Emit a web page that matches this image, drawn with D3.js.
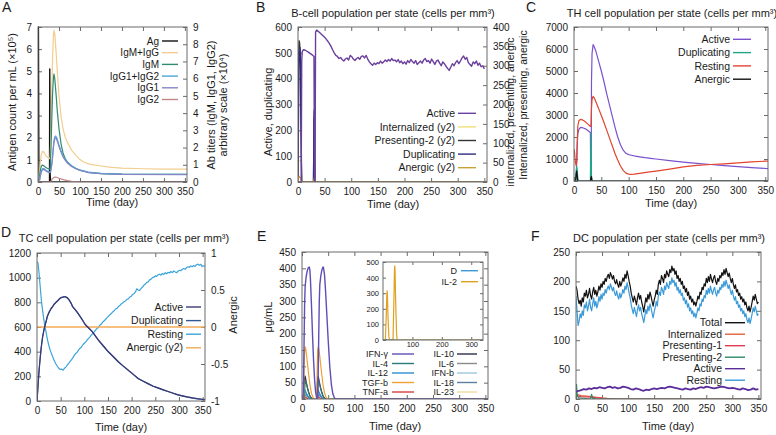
<!DOCTYPE html>
<html><head><meta charset="utf-8">
<script src="https://cdn.jsdelivr.net/npm/d3@7"></script>
<style>
body{margin:0;background:#fff;}
svg{display:block;}
</style></head><body>
<svg id="chart" width="776" height="435"></svg>
<script>
// ---------------- DATA ----------------
const dayTicks = [0,50,100,150,200,250,300,350];

// Panel A (Ag on left axis x10^5, antibodies on right axis x10^4)
const aNames = ["Ag","IgM+IgG","IgM","IgG1+IgG2","IgG1","IgG2"];
const aAg = [[0,7],[1,7],[2,1],[3,0],[27.5,0],[28,5.1],[29,0.3],[30,0],[355,0]];
const aIgMIgG = [[0,0],[2,0.1],[4,0.7],[6,1.3],[8,1.6],[10,1.75],[12,1.78],[14,1.72],[17,1.6],[20,1.5],[24,1.42],[27,1.36],[28,1.35],[29,1.5],[31,3.0],[33,5.5],[35,7.5],[37,8.6],[38,8.8],[40,8.6],[43,7.6],[46,6.4],[50,5.0],[55,3.8],[60,3.05],[65,2.6],[70,2.3],[80,1.85],[90,1.55],[100,1.3],[110,1.15],[125,1.02],[150,0.93],[175,0.85],[200,0.8],[250,0.77],[300,0.75],[355,0.75]];
const aIgM = [[0,0],[2,0.05],[4,0.4],[6,0.75],[8,0.92],[10,0.98],[12,0.97],[15,0.92],[18,0.86],[22,0.8],[26,0.76],[28,0.75],[29,0.85],[31,2.0],[33,3.8],[35,5.3],[37,6.1],[38,6.26],[40,6.0],[43,5.1],[46,4.1],[50,3.1],[55,2.2],[60,1.65],[65,1.35],[70,1.16],[80,0.93],[90,0.78],[100,0.68],[120,0.56],[150,0.49],[200,0.455],[355,0.44]];
const aIgG12 = [[0,0],[3,0],[5,0.3],[8,0.65],[11,0.78],[14,0.78],[18,0.7],[22,0.63],[26,0.6],[28,0.58],[30,0.62],[32,0.9],[34,1.3],[36,1.9],[38,2.4],[40,2.62],[42,2.67],[44,2.6],[47,2.4],[50,2.15],[55,1.8],[60,1.5],[65,1.3],[70,1.15],[80,0.95],[90,0.8],[100,0.7],[120,0.57],[150,0.5],[200,0.46],[355,0.45]];
const aIgG1 = [[0,0],[3,0],[5,0.28],[8,0.6],[11,0.72],[14,0.72],[18,0.65],[22,0.59],[26,0.56],[28,0.54],[30,0.58],[32,0.85],[34,1.22],[36,1.8],[38,2.28],[40,2.5],[42,2.56],[44,2.5],[47,2.3],[50,2.06],[55,1.72],[60,1.44],[65,1.25],[70,1.1],[80,0.9],[90,0.77],[100,0.67],[120,0.55],[150,0.48],[200,0.44],[355,0.43]];
const aIgG2 = [[0,0],[28,0],[31,0.05],[34,0.18],[38,0.27],[42,0.29],[46,0.26],[50,0.22],[60,0.14],[70,0.08],[80,0.04],[100,0.01],[120,0],[355,0]];

// Panel B
const bNames = ["Active","Internalized (y2)","Presenting-2 (y2)","Duplicating","Anergic (y2)"];
const bActiveEarly = [[0,0],[6,0],[7,470],[8,505],[10,512],[13,511],[16,507],[20,502],[24,496],[28,490],[30,486],[31,0],[32,0],[33,580]];
const bActiveDays = d3.range(35, 351, 3);
const bActiveVals = [588,583,578,572,566,560,553,545,536,525,
  512,500,490,486,478,482,474,468,476,480,
  472,490,485,476,470,478,482,475,486,488,
  480,490,476,465,458,452,460,455,462,458,
  468,460,465,472,466,474,468,478,470,472,
  465,474,462,468,458,465,456,470,462,474,
  466,460,470,455,462,468,460,472,478,466,
  470,460,476,466,455,468,472,460,450,465,
  458,448,440,432,445,458,450,462,470,458,
  468,480,488,475,482,462,455,448,465,458,
  468,452,460,446,450,438];
const bInternalized = [[0,0],[1,55],[6,55],[7,0],[29,0],[30,55],[32,55],[33,0],[355,0]];
const bPresenting2 = [[0,0],[1,330],[2,365],[3,360],[4,340],[5,200],[6,80],[7,0],[29,0],[30,180],[31,190],[32,0],[355,0]];
const bDuplicating = [[0,0],[2,450],[3,500],[4,520],[5,420],[6,200],[7,0],[29,0],[30,250],[31,0],[355,0]];
const bAnergic = [[0,0],[2,15],[5,10],[7,0],[29,0],[31,12],[33,0],[355,0]];

// Panel C
const cNames = ["Active","Duplicating","Resting","Anergic"];
const cActive = [[0,0],[3,0],[4,300],[5,900],[6,1700],[7,2150],[9,2350],[12,2440],[15,2430],[18,2400],[21,2370],[24,2320],[27,2260],[29,2220],[30,2200],[30.5,100],[31.5,100],[32,4500],[33,5800],[35,6200],[37,6100],[40,5900],[45,5450],[50,5000],[55,4500],[60,3950],[65,3450],[70,2950],[75,2450],[80,2000],[85,1650],[90,1400],[95,1260],[100,1200],[105,1170],[110,1140],[120,1100],[130,1060],[140,1030],[150,1000],[175,930],[200,860],[225,800],[250,750],[275,700],[300,650],[325,610],[350,570],[355,565]];
const cDuplicating = [[0,0],[3,0],[4,400],[5,650],[6,500],[7,100],[8,0],[30,0],[30.5,1500],[31,2200],[31.5,1200],[32,150],[33,0],[355,0]];
const cResting = [[0,1450],[1,1300],[2,1000],[3,800],[4,700],[5,900],[6,1800],[7,2500],[9,2750],[12,2800],[15,2780],[18,2740],[21,2690],[24,2620],[27,2550],[30,2480],[31,2480],[32,3300],[33,3700],[35,3850],[37,3780],[40,3600],[45,3300],[50,2980],[55,2650],[60,2300],[65,1950],[70,1600],[75,1250],[80,950],[85,680],[90,480],[95,360],[100,310],[105,300],[110,310],[120,345],[135,400],[150,450],[175,540],[200,640],[225,710],[250,750],[275,780],[300,820],[325,870],[350,900],[355,905]];
const cAnergic = [[0,0],[3,0],[4,300],[5,450],[6,200],[7,0],[30,0],[31,150],[32,200],[33,0],[355,0]];

// Panel D
const dNames = ["Active","Duplicating","Resting","Anergic (y2)"];
const dActive = [[0,0],[2,120],[4,230],[6,320],[8,400],[10,470],[12,525],[15,585],[19,643],[22,690],[26,725],[30,752],[33,766],[36,785],[40,801],[44,815],[47,828],[50,838],[54,842],[58,847],[62,843],[65,835],[68,820],[72,795],[75,768],[80,745],[85,720],[89,698],[95,665],[100,632],[103,616],[110,590],[117,562],[123,530],[130,494],[140,448],[151,399],[160,365],[172,318],[182,285],[193,250],[203,218],[214,182],[225,160],[235,141],[245,122],[256,106],[266,92],[276,79],[287,65],[297,52],[308,42],[318,33],[329,25],[339,19],[350,14],[355,12]];
const dDuplicating = [[0,0],[2,110],[4,225],[6,318],[8,398],[10,465],[12,520],[15,580],[19,640],[22,686],[26,722],[30,750],[33,764],[36,782],[40,798],[44,812],[47,825],[50,835],[54,840],[58,845],[62,840],[65,832],[68,818],[72,792],[75,766],[80,742],[85,718],[89,696],[95,662],[100,630],[103,614],[110,588],[117,560],[123,528],[130,492],[140,446],[151,397],[160,363],[172,316],[182,283],[193,248],[203,216],[214,180],[225,158],[235,139],[245,120],[256,104],[266,90],[276,77],[287,63],[297,50],[308,40],[318,31],[329,23],[339,17],[350,12],[355,11]];
const dResting = [[0,1130],[2,1120],[4,1050],[6,960],[8,870],[10,790],[13,700],[16,620],[19,560],[22,500],[25,450],[28,410],[31,380],[34,350],[37,322],[40,300],[43,282],[46,265],[49,256],[52,258],[55,250],[58,265],[61,275],[64,292],[67,305],[70,322],[73,336],[76,352],[79,372],[82,385],[85,396],[88,414],[91,428],[94,438],[97,456],[100,468],[103,480],[106,496],[109,508],[112,520],[115,536],[118,548],[121,560],[124,577],[127,588],[130,600],[133,616],[136,624],[139,641],[142,650],[145,663],[148,676],[151,686],[154,700],[157,709],[160,722],[163,731],[166,746],[169,751],[172,766],[175,774],[178,787],[181,794],[184,806],[187,811],[190,824],[193,829],[196,843],[199,849],[202,864],[205,870],[208,884],[211,910],[214,899],[217,896],[220,913],[223,924],[226,940],[229,948],[232,962],[235,966],[238,982],[241,988],[244,1000],[247,1004],[250,1014],[253,1010],[256,1024],[259,1028],[262,1020],[265,1034],[268,1026],[271,1040],[274,1031],[277,1044],[280,1038],[283,1050],[286,1041],[289,1054],[292,1046],[295,1040],[298,1052],[301,1060],[304,1056],[307,1068],[310,1074],[313,1068],[316,1082],[319,1088],[322,1084],[325,1095],[328,1089],[331,1098],[334,1091],[337,1105],[340,1110],[343,1100],[346,1108],[349,1090],[352,1096],[355,1094]];
const dAnergic = [[0,0],[355,0]];

// Panel E
const eLeftNames = ["IFN-γ","IL-4","IL-12","TGF-b","TNF-a"];
const eRightNames = ["IL-10","IL-6","IFN-b","IL-18","IL-23"];
const eIFNg = [[0,0],[2,0],[3,60],[4,180],[5,290],[6,345],[8,375],[10,392],[12,402],[14,404],[15,395],[16,370],[18,290],[20,200],[22,120],[24,60],[26,20],[28,3],[29,0],[30,0],[31,80],[32,200],[33,300],[34,350],[36,378],[38,395],[40,404],[41,402],[43,380],[45,330],[47,270],[50,180],[53,100],[56,45],[59,15],[62,3],[65,0],[355,0]];
const eIL4 = [[0,0],[4,0],[5,30],[6,50],[7,55],[8,50],[10,35],[13,18],[16,6],[19,0],[29,0],[30,30],[31,50],[32,55],[33,50],[35,35],[38,18],[41,6],[44,0],[355,0]];
const eIL12 = [[0,0],[3,0],[4,22],[5,30],[6,28],[8,18],[11,8],[14,2],[17,0],[28,0],[29,22],[30,30],[31,28],[33,18],[36,8],[39,2],[42,0],[355,0]];
const eTGFb = [[0,0],[3,0],[4,100],[5,150],[6,160],[7,155],[9,130],[12,85],[15,45],[18,18],[21,5],[24,0],[28,0],[29,90],[30,150],[31,160],[32,155],[34,130],[37,85],[40,45],[43,18],[46,5],[49,0],[355,0]];
const eTNFa = [[0,0],[4,0],[6,6],[9,3],[12,0],[29,0],[31,6],[34,3],[37,0],[355,0]];
const eIL10 = [[0,0],[3,0],[4,40],[5,65],[6,70],[7,62],[9,45],[12,25],[15,10],[18,3],[21,0],[28,0],[29,40],[30,65],[31,70],[32,62],[34,45],[37,25],[40,10],[43,3],[46,0],[355,0]];
const eIL6 = [[0,0],[4,0],[5,15],[6,22],[8,18],[11,10],[14,4],[17,0],[29,0],[30,15],[31,22],[33,18],[36,10],[39,4],[42,0],[355,0]];
const eIFNb = [[0,0],[3,0],[5,18],[7,14],[10,6],[13,0],[28,0],[30,18],[32,14],[35,6],[38,0],[355,0]];
const eIL18 = [[0,0],[4,0],[6,12],[9,8],[12,3],[15,0],[29,0],[31,12],[34,8],[37,3],[40,0],[355,0]];
const eIL23 = [[0,0],[4,0],[6,8],[10,4],[14,0],[29,0],[31,8],[35,4],[39,0],[355,0]];
const eInsetNames = ["D","IL-2"];
const eD = [[0,0],[10,4],[15,0],[35,4],[40,0],[340,0]];
const eIL2 = [[0,0],[8,0],[11,150],[13,290],[14,315],[15,290],[17,150],[20,20],[22,0],[34,0],[37,250],[39,450],[40,475],[41,450],[43,250],[46,50],[48,0],[340,0]];

// Panel F
const fNames = ["Total","Internalized","Presenting-1","Presenting-2","Active","Resting"];
const fDays2 = d3.range(0, 351, 2);
const fTotal = [192,185,170,162,168,158,172,165,180,175,
  185,172,178,188,176,170,182,190,178,185,
  175,182,192,185,196,190,200,195,205,200,
  208,212,205,215,210,204,210,200,196,203,
  195,190,200,192,198,206,200,212,205,218,
  210,200,192,180,172,165,175,168,160,172,
  180,170,176,165,158,148,160,172,165,178,
  170,182,175,166,158,168,175,185,178,195,
  202,195,210,205,198,212,206,218,212,208,
  220,215,226,218,222,212,218,205,210,200,
  205,195,200,188,192,182,188,176,182,170,
  175,165,170,160,165,158,166,175,170,182,
  178,190,186,196,192,205,198,208,200,212,
  204,198,206,210,200,195,205,200,210,206,
  215,210,220,212,222,215,208,214,205,198,
  205,195,188,194,182,186,176,180,170,174,
  165,170,160,165,155,150,158,148,156,165,
  175,168,178,170,162,165];
const fResting = [175,150,125,132,145,138,150,142,160,155,
  165,150,158,170,156,150,162,172,158,166,
  155,162,174,166,178,170,180,176,186,180,
  188,192,186,196,190,184,190,180,176,184,
  175,170,180,172,178,186,180,192,186,198,
  190,180,172,160,152,145,156,148,140,152,
  160,150,156,145,138,130,140,152,145,158,
  150,162,155,146,138,148,156,166,158,175,
  182,176,190,185,178,192,186,198,192,188,
  200,195,206,198,202,192,198,185,190,180,
  186,176,180,168,172,162,168,156,162,150,
  155,145,150,140,146,138,146,155,150,162,
  158,170,166,176,172,185,178,188,180,192,
  184,178,186,190,180,175,185,180,190,186,
  195,190,200,192,202,195,188,194,185,178,
  185,175,168,174,162,166,156,160,150,154,
  145,150,140,145,135,130,138,128,136,145,
  155,148,158,150,142,145];
const fDays5 = d3.range(0, 351, 5);
const fActive = [12,14,15,17,16,18,17,19,18,20,
  19,18,20,21,19,20,18,19,21,20,
  19,17,16,18,17,15,14,16,15,17,
  18,17,18,19,18,20,21,20,19,18,
  17,16,18,17,16,18,17,19,20,19,
  21,20,19,18,19,20,21,20,19,18,
  19,18,17,16,18,17,15,16,18,16,
  17];
const fInternalized = [[0,8],[5,7],[10,6],[20,5],[30,4],[40,3],[50,2],[60,1.2],[70,0.6],[80,0.2],[90,0],[355,0]];
const fPresenting1 = [[0,5],[5,5],[10,4],[20,3.5],[30,3],[40,2],[50,1],[60,0.5],[70,0],[355,0]];
const fPresenting2 = [[0,0],[1,25],[2,10],[3,5],[5,2],[28,0],[30,8],[32,1],[40,0],[355,0]];

// ---------------- DRAWING ----------------
const svg = d3.select("#chart");
const FF = '"Liberation Sans", Arial, Helvetica, sans-serif';
const INK = "#1a1a1a";
const FRAME = "#6a6a6a";
let clipN = 0;
const fmtInt = d3.format("d");
const zip = (xs, ys) => ys.map((v, i) => [xs[i], v]);

function txt(x, y, s, fs, anchor) {
  return svg.append("text").attr("x", x).attr("y", y).attr("font-size", fs)
    .attr("font-family", FF).attr("fill", INK).attr("text-anchor", anchor || "start").text(s);
}
function vtxt(x, y, s, fs) {
  return svg.append("text").attr("transform", `translate(${x},${y}) rotate(-90)`)
    .attr("text-anchor", "middle").attr("dy", "0.35em").attr("font-size", fs)
    .attr("font-family", FF).attr("fill", INK).text(s);
}

function panel(p) {
  const g = svg.append("g");
  const x = d3.scaleLinear().domain(p.xd).range([p.l, p.r]);
  const y = d3.scaleLinear().domain(p.yd).range([p.b, p.t]);
  const y2 = p.y2d ? d3.scaleLinear().domain(p.y2d).range([p.b, p.t]) : null;
  const fs = p.fs || 10, tl = p.tl || 4;
  const style = sel => {
    sel.select(".domain").remove();
    sel.selectAll(".tick line").attr("stroke", FRAME);
    sel.selectAll(".tick text").attr("font-size", fs).attr("font-family", FF).attr("fill", INK);
  };
  g.append("g").attr("transform", `translate(0,${p.b})`)
    .call(d3.axisBottom(x).tickValues(p.xt).tickSize(-tl).tickPadding(p.xpad ?? 6).tickFormat(fmtInt)).call(style);
  g.append("g").attr("transform", `translate(0,${p.t})`)
    .call(d3.axisTop(x).tickValues(p.xt).tickSize(-tl).tickFormat("")).call(style);
  g.append("g").attr("transform", `translate(${p.l},0)`)
    .call(d3.axisLeft(y).tickValues(p.yt).tickSize(-tl).tickPadding(p.ypad ?? 6).tickFormat(p.yf || fmtInt)).call(style);
  if (y2) {
    g.append("g").attr("transform", `translate(${p.r},0)`)
      .call(d3.axisRight(y2).tickValues(p.y2t).tickSize(-tl).tickPadding(p.ypad ?? 6).tickFormat(p.y2f || fmtInt)).call(style);
  } else {
    g.append("g").attr("transform", `translate(${p.r},0)`)
      .call(d3.axisRight(y).tickValues(p.yt).tickSize(-tl).tickFormat("")).call(style);
  }
  const cid = "clip" + (clipN++);
  svg.append("clipPath").attr("id", cid).append("rect")
    .attr("x", p.l).attr("y", p.t - 1).attr("width", p.r - p.l).attr("height", p.b - p.t + 1);
  const lg = g.append("g").attr("clip-path", `url(#${cid})`);
  p.series.forEach(s => {
    const sc = s.y2 ? y2 : y;
    lg.append("path").datum(s.data).attr("fill", "none").attr("stroke", s.color)
      .attr("stroke-width", s.w || 1.2).attr("stroke-linejoin", "round")
      .attr("d", d3.line().x(d => x(d[0])).y(d => sc(d[1])));
  });
  g.append("rect").attr("x", p.l).attr("y", p.t).attr("width", p.r - p.l).attr("height", p.b - p.t)
    .attr("fill", "none").attr("stroke", FRAME).attr("stroke-width", 1);
  return { g, x, y, y2 };
}

function legend(items, xEnd, y0, dy, fs, len, gap) {
  items.forEach((it, i) => {
    const yy = y0 + i * dy;
    svg.append("text").attr("x", xEnd).attr("y", yy).attr("dy", "0.35em").attr("text-anchor", "end")
      .attr("font-size", fs).attr("font-family", FF).attr("fill", INK).text(it.name);
    svg.append("line").attr("x1", xEnd + gap).attr("x2", xEnd + gap + len).attr("y1", yy).attr("y2", yy)
      .attr("stroke", it.color).attr("stroke-width", it.lw || 1.4);
  });
}

// ---- Panel A ----
const aColors = ["#111111", "#f3cd8f", "#2f8c72", "#4aa6d6", "#8585c6", "#c58585"];
const aData = [aAg, aIgMIgG, aIgM, aIgG12, aIgG1, aIgG2];
panel({
  l: 38, r: 187, t: 27, b: 182, xd: [0, 355], yd: [0, 7], y2d: [0, 9],
  xt: dayTicks, yt: d3.range(0, 8), y2t: d3.range(0, 10),
  series: aData.map((d, i) => ({ data: d, color: aColors[i], y2: i > 0, w: i === 0 ? 1.4 : 1.2 }))
});
legend(aNames.map((n, i) => ({ name: n, color: aColors[i] })), 159, 41, 11.7, 10, 16, 3);
vtxt(12, 102, "Antigen count per mL (×10⁵)", 11);
vtxt(211, 105, "Ab titers (IgM, IgG1, IgG2)", 11);
vtxt(223, 105, "arbitrary scale (×10⁴)", 11);
txt(112, 206, "Time (day)", 11, "middle");
txt(2, 12, "A", 14);

// ---- Panel B ----
const bColors = ["#6b3f9c", "#efe07a", "#333333", "#2c2c80", "#c9a234"];
const bActive = bActiveEarly.concat(zip(bActiveDays, bActiveVals));
panel({
  l: 298, r: 487, t: 27, b: 182, xd: [0, 355], yd: [0, 600], y2d: [0, 400],
  xt: dayTicks, yt: d3.range(0, 601, 100), y2t: d3.range(0, 401, 50),
  series: [
    { data: bInternalized, color: bColors[1], y2: true },
    { data: bPresenting2, color: bColors[2], y2: true },
    { data: bDuplicating, color: bColors[3] },
    { data: bAnergic, color: bColors[4], y2: true },
    { data: bActive, color: bColors[0], w: 1.4 }
  ]
});
legend(bNames.map((n, i) => ({ name: n, color: bColors[i] })), 455, 113.3, 13.6, 10.5, 18, 3);
vtxt(268, 112, "Active, duplicating", 11);
vtxt(510, 112, "internalized, presenting, anergic", 10.5);
txt(393, 208, "Time (day)", 11, "middle");
txt(393, 17, "B-cell population per state (cells per mm³)", 11, "middle");
txt(256, 12, "B", 14);

// ---- Panel C ----
const cColors = ["#7a52cf", "#1fa688", "#e2452e", "#111111"];
panel({
  l: 574, r: 768, t: 27, b: 181, xd: [0, 355], yd: [0, 7000],
  xt: dayTicks, yt: d3.range(0, 7001, 1000),
  series: [
    { data: cActive, color: cColors[0] },
    { data: cResting, color: cColors[2] },
    { data: cDuplicating, color: cColors[1] },
    { data: cAnergic, color: cColors[3] }
  ]
});
legend(cNames.map((n, i) => ({ name: n, color: cColors[i] })), 730, 39.3, 13.3, 10.5, 18, 3);
vtxt(523, 105, "Internalized, presenting, anergic", 10.5);
txt(671, 207, "Time (day)", 11, "middle");
txt(672, 17, "TH cell population per state (cells per mm³)", 11, "middle");
txt(526, 12, "C", 14);

// ---- Panel D ----
const dColors = ["#3c3a78", "#2f5994", "#3ba4d9", "#f0aa55"];
panel({
  l: 37, r: 205, t: 253, b: 401, xd: [0, 355], yd: [0, 1200], y2d: [-1, 1],
  xt: dayTicks, yt: d3.range(0, 1201, 200), y2t: [-1, -0.5, 0, 0.5, 1], y2f: d => String(d),
  series: [
    { data: dResting, color: dColors[2] },
    { data: dAnergic, color: dColors[3], y2: true, w: 1.5 },
    { data: dDuplicating, color: dColors[1] },
    { data: dActive, color: dColors[0] }
  ]
});
legend(dNames.map((n, i) => ({ name: n, color: dColors[i] })), 183, 307, 13.6, 10.5, 15, 3);
vtxt(233, 315, "Anergic", 11);
txt(121, 431, "Time (day)", 11, "middle");
txt(124, 242, "TC cell population per state (cells per mm³)", 11, "middle");
txt(1, 237, "D", 14);

// ---- Panel E ----
const eLeftColors = ["#5d4fb5", "#2a7a7a", "#2a8fd0", "#f0a030", "#d84040"];
const eRightColors = ["#2d2d4d", "#8a8a8a", "#9cc8e0", "#5a7fa0", "#f0dca0"];
const eLeftData = [eIFNg, eIL4, eIL12, eTGFb, eTNFa];
const eRightData = [eIL10, eIL6, eIFNb, eIL18, eIL23];
const eSeries = [];
eRightData.forEach((d, i) => eSeries.push({ data: d, color: eRightColors[i] }));
[4, 2, 1, 3, 0].forEach(i => eSeries.push({ data: eLeftData[i], color: eLeftColors[i], w: i === 0 ? 1.4 : 1.2 }));
panel({
  l: 302, r: 488, t: 252, b: 399, xd: [0, 355], yd: [0, 450],
  xt: dayTicks, yt: d3.range(0, 451, 50),
  series: eSeries
});
legend(eLeftNames.map((n, i) => ({ name: n, color: eLeftColors[i] })), 388, 354, 9.5, 9, 22, 4);
legend(eRightNames.map((n, i) => ({ name: n, color: eRightColors[i] })), 454, 354, 9.5, 9, 20, 3);
// inset
svg.append("rect").attr("x", 383).attr("y", 262).attr("width", 100).attr("height", 78).attr("fill", "#fff");
const eInsetColors = ["#3a9ad8", "#e0a020"];
panel({
  l: 383, r: 483, t: 262, b: 340, xd: [0, 340], yd: [0, 500], fs: 7.5, tl: 3, xpad: 2, ypad: 4,
  xt: [100, 200, 300], yt: d3.range(0, 501, 100),
  series: [
    { data: eD, color: eInsetColors[0] },
    { data: eIL2, color: eInsetColors[1] }
  ]
});
legend(eInsetNames.map((n, i) => ({ name: n, color: eInsetColors[i] })), 457, 270.7, 11, 9, 17, 4);
vtxt(268, 317, "μg/mL", 11);
txt(395, 430, "Time (day)", 11, "middle");
txt(257, 241, "E", 14);

// ---- Panel F ----
const fColors = ["#111111", "#e0603e", "#e03c50", "#2a8a6a", "#5a2d9a", "#3a9ad8"];
panel({
  l: 576, r: 761, t: 252, b: 399, xd: [0, 355], yd: [0, 250],
  xt: dayTicks, yt: d3.range(0, 251, 50),
  series: [
    { data: zip(fDays2, fResting), color: fColors[5] },
    { data: zip(fDays2, fTotal), color: fColors[0] },
    { data: fInternalized, color: fColors[1] },
    { data: fPresenting1, color: fColors[2] },
    { data: fPresenting2, color: fColors[3] },
    { data: zip(fDays5, fActive), color: fColors[4], w: 1.8 }
  ]
});
legend(fNames.map((n, i) => ({ name: n, color: fColors[i] })), 722, 322.7, 11.5, 10.5, 20, 3);
txt(668, 430, "Time (day)", 11, "middle");
txt(669, 242, "DC population per state (cells per mm³)", 11, "middle");
txt(531, 241, "F", 14);
</script></body></html>
